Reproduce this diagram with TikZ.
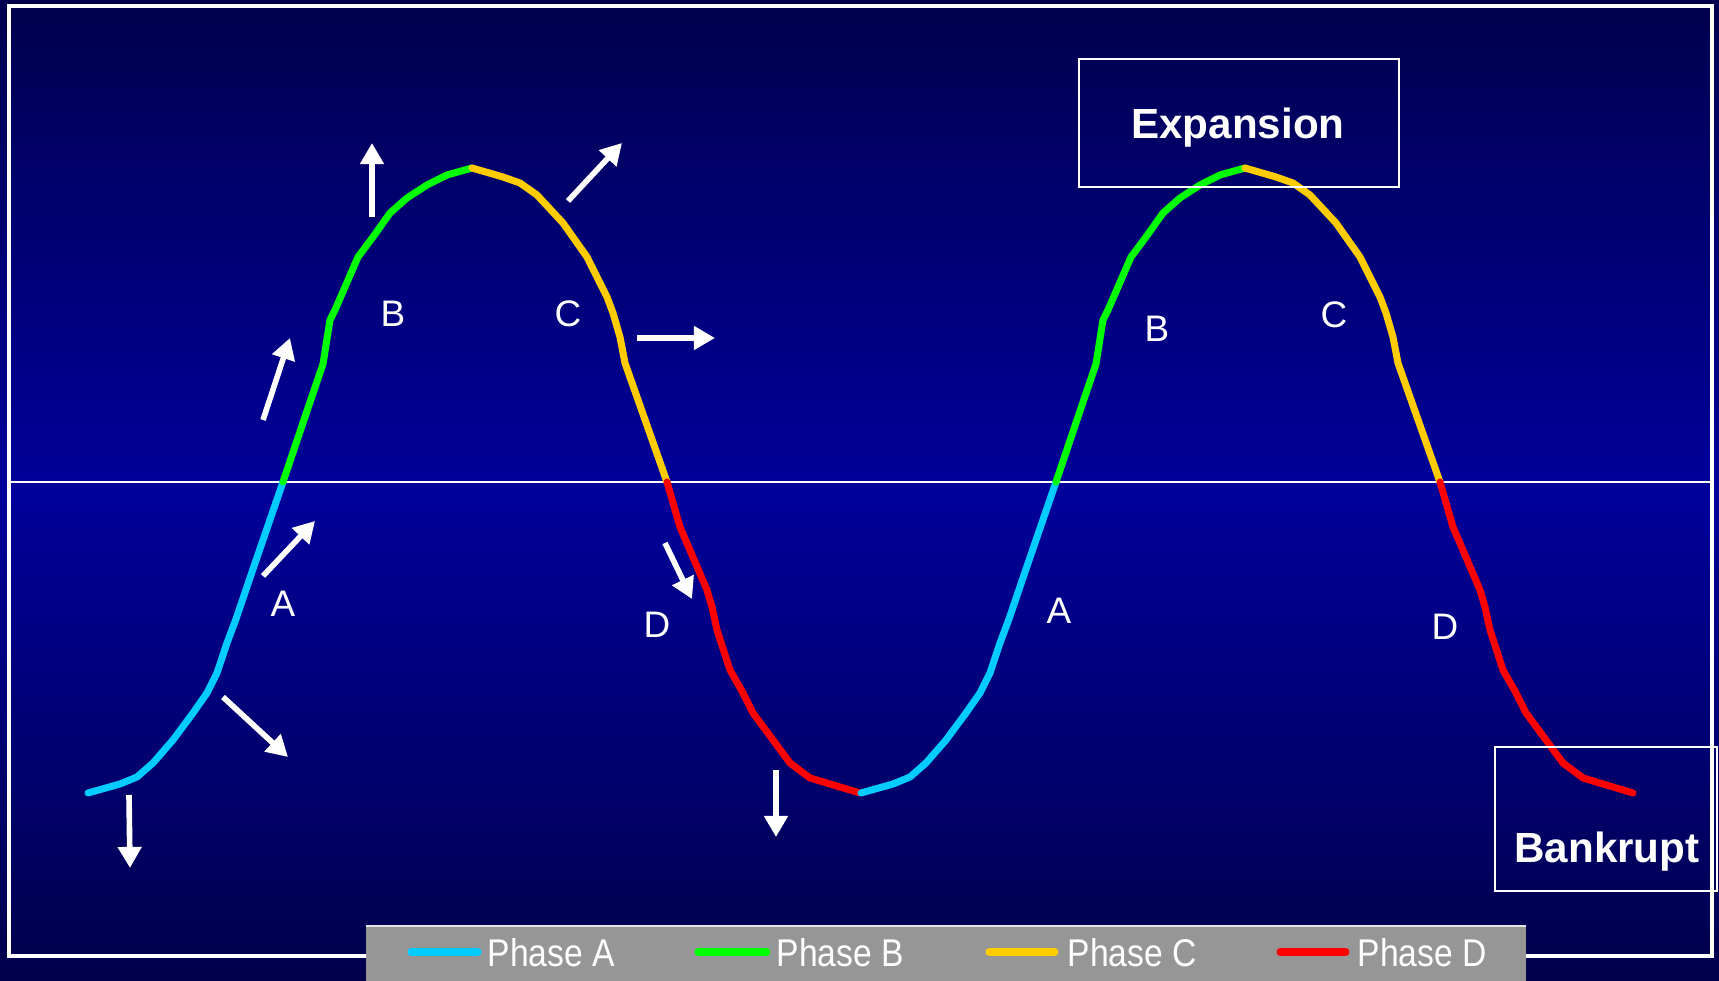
\documentclass[tikz,border=0pt]{standalone}
\usepackage{fontspec}
\setmainfont{Liberation Sans}
\newfontfamily\legendfont[FakeStretch=0.87]{Liberation Sans}
\usetikzlibrary{arrows.meta}

\definecolor{bgtop}{RGB}{0,0,78}
\definecolor{bgmid}{RGB}{0,0,155}
\definecolor{bgbot}{RGB}{0,0,75}
\definecolor{phaseA}{RGB}{0,204,255}
\definecolor{phaseB}{RGB}{0,255,0}
\definecolor{phaseC}{RGB}{255,204,0}
\definecolor{phaseD}{RGB}{255,0,0}
\definecolor{legendgray}{RGB}{150,150,150}

\tikzset{
  wave/.style={line width=2pt, line cap=round, line join=round},
  move/.style={white, line width=1.6pt, -{Triangle[length=6pt,width=6.5pt]}},
  letter/.style={text=white, font=\fontsize{10.5}{12}\selectfont, anchor=base},
  tag/.style={text=white, font=\fontsize{12}{14}\selectfont\bfseries, anchor=base},
  frame/.style={draw=white, line width=0.6pt, inner sep=0pt},
  key/.style={line width=2pt, line cap=round},
  keytext/.style={text=white, font=\legendfont\fontsize{11}{12}\selectfont, anchor=base west, inner sep=0pt}
}

\begin{document}
\begin{tikzpicture}
\useasboundingbox (0,0) rectangle (17.19,9.81);
\shade[top color=bgtop, bottom color=bgbot, middle color=bgmid] (0,0) rectangle (17.19,9.81);
\draw[white, line width=0.9pt] (0.09,0.25) rectangle (17.12,9.75);
\draw[white, line width=0.6pt] (0.09,4.99) -- (17.12,4.99);

% the two cycles
\foreach \s in {0,7.73} {
\begin{scope}[shift={(\s,0)}]
\draw[wave, phaseA] (0.88,1.88) -- (1.20,1.97) -- (1.37,2.04) -- (1.53,2.18) -- (1.73,2.41) -- (1.93,2.68) -- (2.07,2.88) -- (2.17,3.08) -- (2.27,3.38) -- (2.36,3.62) -- (2.52,4.09) -- (2.83,4.99);
\draw[wave, phaseB] (2.83,4.99) -- (3.07,5.70) -- (3.23,6.17) -- (3.30,6.61) -- (3.35,6.71) -- (3.45,6.94) -- (3.58,7.24) -- (3.73,7.44) -- (3.90,7.68) -- (4.07,7.83) -- (4.27,7.96) -- (4.47,8.06) -- (4.72,8.13);
\draw[wave, phaseC] (4.72,8.13) -- (5.03,8.04) -- (5.20,7.98) -- (5.37,7.86) -- (5.63,7.58) -- (5.87,7.24) -- (5.90,7.18) -- (6.07,6.84) -- (6.13,6.68) -- (6.20,6.44) -- (6.25,6.18) -- (6.67,4.99);
\draw[wave, phaseD] (6.67,4.99) -- (6.80,4.54) -- (7.07,3.91) -- (7.12,3.74) -- (7.17,3.51) -- (7.30,3.11) -- (7.43,2.88) -- (7.53,2.68) -- (7.73,2.41) -- (7.90,2.18) -- (8.10,2.03) -- (8.60,1.88);
\end{scope}
}

% phase letters
\node[letter] (a1) at (2.83,3.64) {A};
\node[letter] (b1) at (3.93,6.54) {B};
\node[letter] (c1) at (5.68,6.54) {C};
\node[letter] (d1) at (6.57,3.43) {D};
\node[letter] (a2) at (10.59,3.57) {A};
\node[letter] (b2) at (11.57,6.39) {B};
\node[letter] (c2) at (13.34,6.53) {C};
\node[letter] (d2) at (14.45,3.41) {D};

% direction arrows
\draw[move] (1.29,1.86) -- (1.30,1.13);
\draw[move] (2.23,2.84) -- (2.88,2.24);
\draw[move] (2.63,4.05) -- (3.15,4.60);
\draw[move] (2.63,5.61) -- (2.90,6.43);
\draw[move] (3.72,7.64) -- (3.72,8.38);
\draw[move] (5.68,7.80) -- (6.22,8.38);
\draw[move] (6.37,6.43) -- (7.15,6.43);
\draw[move] (6.65,4.38) -- (6.92,3.82);
\draw[move] (7.76,2.11) -- (7.76,1.44);

% boxes
\node[frame, minimum width=3.2cm, minimum height=1.28cm] (expbox) at (12.39,8.58) {};
\node[tag] (expansion) at (12.38,8.42) {Expansion};
\node[frame, minimum width=2.22cm, minimum height=1.44cm] (bankbox) at (16.06,1.62) {};
\node[tag] (bankrupt) at (16.07,1.18) {Bankrupt};

% legend
\fill[legendgray] (3.66,0) rectangle (15.26,0.55);
\draw[white!75!legendgray, line width=0.5pt] (3.66,0.55) -- (15.26,0.55);
\draw[key, phaseA] (4.11,0.29) -- (4.78,0.29);
\node[keytext] (keya) at (4.87,0.14) {Phase A};
\draw[key, phaseB] (6.98,0.29) -- (7.67,0.29);
\node[keytext] (keyb) at (7.76,0.14) {Phase B};
\draw[key, phaseC] (9.89,0.29) -- (10.55,0.29);
\node[keytext] (keyc) at (10.67,0.14) {Phase C};
\draw[key, phaseD] (12.80,0.29) -- (13.46,0.29);
\node[keytext] (keyd) at (13.57,0.14) {Phase D};
\end{tikzpicture}
\end{document}
